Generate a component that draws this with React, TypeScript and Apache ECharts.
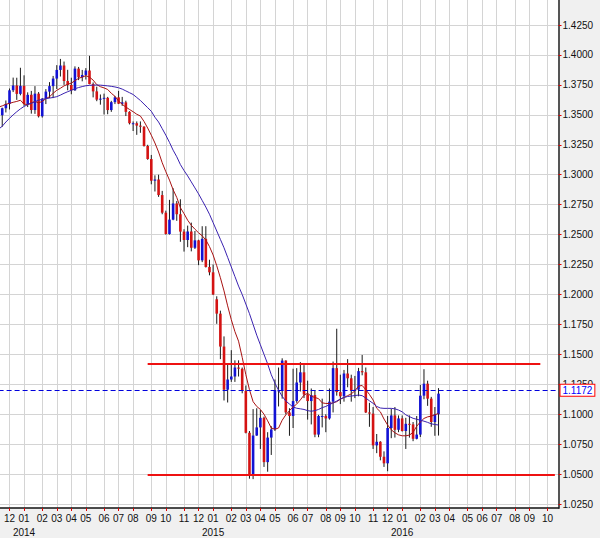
import { useEffect, useRef } from "react";
import * as echarts from "echarts";

// ---- data ----
const START_MONDAY = Date.UTC(2013, 10, 11); // first weekly category (Monday)
const WEEK_COUNT = 155; // categories up to late Oct 2016
const FIRST_BAR = 1; // index of the first candle (week of 2013-11-18)

const opens = [
  1.3497, 1.3555, 1.3591, 1.3705, 1.3745, 1.3675, 1.3742, 1.359, 1.3667, 1.354,
  1.3677, 1.3488, 1.3635, 1.3694, 1.374, 1.3803, 1.3875, 1.3912, 1.3782, 1.375,
  1.3705, 1.3886, 1.3814, 1.3833, 1.387, 1.3757, 1.3696, 1.3627, 1.3635, 1.3642,
  1.354, 1.3606, 1.3646, 1.3593, 1.3604, 1.3525, 1.343, 1.343, 1.341, 1.3401,
  1.324, 1.3131, 1.295, 1.296, 1.283, 1.2683, 1.2505, 1.2625, 1.276, 1.267,
  1.2525, 1.2455, 1.2526, 1.239, 1.2452, 1.2285, 1.2465, 1.223, 1.2185, 1.196,
  1.184, 1.1565, 1.1205, 1.129, 1.1315, 1.139, 1.138, 1.1195, 1.0845, 1.0495,
  1.0822, 1.089, 1.097, 1.06, 1.0805, 1.0873, 1.12, 1.12, 1.1448, 1.1015,
  1.0985, 1.111, 1.1265, 1.135, 1.1165, 1.111, 1.116, 1.083, 1.0985, 1.0985,
  1.0965, 1.1105, 1.1385, 1.1185, 1.115, 1.134, 1.13, 1.1195, 1.1205, 1.136,
  1.135, 1.1015, 1.1005, 1.074, 1.077, 1.0645, 1.059, 1.0885, 1.099, 1.087,
  1.0965, 1.086, 1.092, 1.0915, 1.0795, 1.083, 1.1155, 1.1255, 1.113, 1.0935,
  1.1,
];
const highs = [
  1.356, 1.362, 1.372, 1.3811, 1.381, 1.3893, 1.383, 1.3688, 1.37, 1.374,
  1.369, 1.364, 1.3715, 1.3773, 1.3825, 1.3915, 1.3967, 1.3945, 1.3876, 1.381,
  1.3905, 1.39, 1.3875, 1.389, 1.3993, 1.377, 1.3735, 1.367, 1.3677, 1.365,
  1.3617, 1.3658, 1.37, 1.365, 1.3618, 1.353, 1.3445, 1.3445, 1.3445, 1.3405,
  1.325, 1.3165, 1.2995, 1.3, 1.2865, 1.27, 1.279, 1.2887, 1.278, 1.2795,
  1.2545, 1.2575, 1.26, 1.253, 1.2457, 1.257, 1.257, 1.229, 1.225, 1.1985,
  1.1865, 1.165, 1.1425, 1.1535, 1.145, 1.145, 1.139, 1.124, 1.086, 1.1043,
  1.105, 1.1035, 1.098, 1.085, 1.09, 1.129, 1.139, 1.1467, 1.145, 1.105,
  1.138, 1.1385, 1.1435, 1.141, 1.128, 1.1215, 1.12, 1.0995, 1.113, 1.1,
  1.1215, 1.144, 1.1714, 1.133, 1.137, 1.146, 1.133, 1.132, 1.1387, 1.1495,
  1.139, 1.1095, 1.106, 1.0835, 1.0775, 1.069, 1.0985, 1.1045, 1.106, 1.099,
  1.099, 1.097, 1.099, 1.0935, 1.0985, 1.1245, 1.1376, 1.128, 1.1145, 1.106,
  1.1218,
];
const lows = [
  1.34, 1.352, 1.3545, 1.369, 1.3625, 1.3663, 1.3575, 1.3565, 1.351, 1.3508,
  1.3478, 1.3477, 1.359, 1.364, 1.364, 1.3715, 1.382, 1.375, 1.3705, 1.3672,
  1.37, 1.379, 1.378, 1.3795, 1.3755, 1.3646, 1.3614, 1.3585, 1.3503, 1.3505,
  1.3525, 1.359, 1.359, 1.3575, 1.349, 1.342, 1.3365, 1.3333, 1.335, 1.3235,
  1.3125, 1.292, 1.286, 1.2815, 1.267, 1.25, 1.25, 1.262, 1.2615, 1.244,
  1.2358, 1.2395, 1.236, 1.238, 1.2245, 1.227, 1.2225, 1.216, 1.1995, 1.1755,
  1.146, 1.1115, 1.1098, 1.127, 1.127, 1.1315, 1.1175, 1.084, 1.0462, 1.0458,
  1.082, 1.071, 1.056, 1.052, 1.066, 1.086, 1.1065, 1.113, 1.1, 1.082,
  1.0885, 1.1095, 1.119, 1.1135, 1.0955, 1.0915, 1.0808, 1.0808, 1.089, 1.085,
  1.0955, 1.1015, 1.1155, 1.1085, 1.1105, 1.1225, 1.1105, 1.1135, 1.115, 1.1325,
  1.101, 1.0895, 1.071, 1.0675, 1.0615, 1.056, 1.0524, 1.08, 1.0805, 1.085,
  1.0855, 1.071, 1.0805, 1.0775, 1.079, 1.081, 1.1125, 1.107, 1.0895, 1.082,
  1.0822,
];
const closes = [
  1.3555, 1.3591, 1.3705, 1.3745, 1.3675, 1.3742, 1.359, 1.3667, 1.354, 1.3677,
  1.3488, 1.3635, 1.3694, 1.374, 1.3803, 1.3875, 1.3912, 1.3782, 1.375, 1.3705,
  1.3886, 1.3814, 1.3833, 1.387, 1.3757, 1.3696, 1.3627, 1.3635, 1.3642, 1.354,
  1.3606, 1.3646, 1.3593, 1.3604, 1.3525, 1.343, 1.343, 1.341, 1.3401, 1.324,
  1.3131, 1.295, 1.296, 1.283, 1.2683, 1.2505, 1.2625, 1.276, 1.267, 1.2525,
  1.2455, 1.2526, 1.239, 1.2452, 1.2285, 1.2465, 1.223, 1.2185, 1.2, 1.184,
  1.1565, 1.1205, 1.129, 1.1315, 1.139, 1.138, 1.1195, 1.0845, 1.0495, 1.0822,
  1.089, 1.097, 1.06, 1.0805, 1.0873, 1.12, 1.12, 1.1448, 1.1015, 1.0985,
  1.111, 1.1265, 1.135, 1.1165, 1.111, 1.116, 1.083, 1.0985, 1.0985, 1.0965,
  1.1105, 1.1385, 1.1185, 1.115, 1.134, 1.13, 1.1195, 1.1205, 1.136, 1.135,
  1.1015, 1.1005, 1.074, 1.077, 1.0645, 1.059, 1.0885, 1.099, 1.087, 1.0965,
  1.086, 1.092, 1.0915, 1.0795, 1.083, 1.1155, 1.1255, 1.113, 1.0935, 1.1,
  1.1172,
];

// moving averages as drawn (one value per week, from the first category)
const fastMA = [
  1.3565, 1.3575, 1.3588, 1.3596, 1.3605, 1.3612, 1.3622, 1.359, 1.3585, 1.36,
  1.3612, 1.36, 1.3612, 1.3635, 1.3651, 1.368, 1.3705, 1.3722, 1.3742, 1.3755,
  1.3765, 1.3785, 1.3805, 1.3815, 1.3827, 1.3815, 1.379, 1.3752, 1.3735, 1.3725,
  1.3712, 1.368, 1.3655, 1.3615, 1.3588, 1.3565, 1.3545, 1.3526, 1.3505, 1.349,
  1.3445, 1.339, 1.333, 1.3265, 1.319, 1.31, 1.3025, 1.2955, 1.2875, 1.281,
  1.2725, 1.2675, 1.262, 1.2578, 1.2545, 1.2515, 1.249, 1.2455, 1.24, 1.233,
  1.224, 1.214, 1.203, 1.1905, 1.179, 1.169, 1.161, 1.1475, 1.133, 1.1205,
  1.1105, 1.1065, 1.104, 1.1, 1.0945, 1.0885, 1.0875, 1.0885, 1.095, 1.0995,
  1.103, 1.106, 1.1085, 1.112, 1.116, 1.1175, 1.115, 1.114, 1.113, 1.1095,
  1.109, 1.109, 1.1095, 1.1105, 1.1125, 1.114, 1.1155, 1.117, 1.1195, 1.1235,
  1.124, 1.1205, 1.1165, 1.1119, 1.105, 1.102, 1.096, 1.091, 1.087, 1.0845,
  1.0828, 1.082, 1.082, 1.0826, 1.0848, 1.09, 1.0935, 1.0965, 1.0978, 1.0984,
  1.0995, 1.1007,
];
const slowMA = [
  1.338, 1.3405, 1.344, 1.3471, 1.35, 1.3526, 1.355, 1.357, 1.3585, 1.3596,
  1.361, 1.3622, 1.363, 1.3635, 1.364, 1.3645, 1.3652, 1.3665, 1.368, 1.3693,
  1.3705, 1.3718, 1.3728, 1.3736, 1.3743, 1.3746, 1.3748, 1.3749, 1.3748, 1.3745,
  1.3742, 1.3738, 1.3733, 1.3726, 1.3715, 1.37, 1.3685, 1.367, 1.3645, 1.362,
  1.359, 1.356, 1.353, 1.348, 1.344, 1.3385, 1.333, 1.327, 1.3205, 1.315,
  1.3085, 1.3035, 1.299, 1.294, 1.289, 1.284, 1.2785, 1.273, 1.267, 1.26,
  1.253, 1.246, 1.239, 1.231, 1.223, 1.215, 1.207, 1.2, 1.192, 1.184,
  1.175, 1.166, 1.158, 1.15, 1.142, 1.133, 1.126, 1.12, 1.115, 1.111,
  1.1085, 1.106, 1.105, 1.1045, 1.104, 1.103, 1.1025, 1.103, 1.104, 1.1055,
  1.1065, 1.108, 1.1095, 1.111, 1.1128, 1.114, 1.1148, 1.1152, 1.1156, 1.116,
  1.1155, 1.1135, 1.1112, 1.1091, 1.1065, 1.1052, 1.1049, 1.1049, 1.1049, 1.1045,
  1.1035, 1.102, 1.0995, 1.098, 1.0966, 1.0958, 1.095, 1.0942, 1.0932, 1.092,
  1.0914, 1.091,
];

const yTicks = [
  1.025, 1.05, 1.075, 1.1, 1.125, 1.15, 1.175, 1.2, 1.225, 1.25, 1.275, 1.3,
  1.325, 1.35, 1.375, 1.4, 1.425,
];
const Y_MIN = 1.0217;
const Y_MAX = 1.4459;

const resistance = 1.142;
const resistanceWeeks = [41, 149];
const support = 1.0492;
const supportWeeks = [41, 153];
const lastPrice = 1.1172;

// ---- helpers ----
const DAY = 86400000;
const pad2 = (n: number) => (n < 10 ? "0" + n : "" + n);
const weekKeys: string[] = Array.from({ length: WEEK_COUNT }, (_, i) => {
  const d = new Date(START_MONDAY + i * 7 * DAY);
  return `${d.getUTCFullYear()}-${pad2(d.getUTCMonth() + 1)}-${pad2(d.getUTCDate())}`;
});
const fridayOf = (i: number) => new Date(START_MONDAY + (i * 7 + 4) * DAY);
const isMonthStart = (i: number) =>
  i > 0 && fridayOf(i).getUTCMonth() !== fridayOf(i - 1).getUTCMonth();
const isYearStart = (i: number) => isMonthStart(i) && fridayOf(i).getUTCMonth() === 0;

const candleData = opens.map((o, k) => [FIRST_BAR + k, o, closes[k], lows[k], highs[k]]);

const FONT = "'Liberation Sans', Arial, Helvetica, sans-serif";

export default function App() {
  const ref = useRef<HTMLDivElement>(null);
  useEffect(() => {
    if (!ref.current) return;
    const chart = echarts.init(ref.current, undefined, { renderer: "svg" });
    chart.setOption({
      animation: false,
      backgroundColor: "#f0f0f0",
      textStyle: { fontFamily: FONT },
      grid: {
        left: -1.4,
        right: 41.5,
        top: 0,
        bottom: 30,
        show: true,
        backgroundColor: "#ffffff",
        borderWidth: 0,
        outerBoundsMode: "none",
        containLabel: false,
      },
      xAxis: [
        {
          type: "category",
          data: weekKeys,
          boundaryGap: false,
          axisLine: { show: true, lineStyle: { color: "#111", width: 1.5 } },
          axisTick: {
            show: true,
            interval: (i: number) => isMonthStart(i),
            length: 3,
            lineStyle: { color: "#e00000", width: 1 },
          },
          axisLabel: {
            interval: (i: number) => isMonthStart(i),
            showMinLabel: true,
            showMaxLabel: true,
            formatter: (_v: string, i: number) => pad2(fridayOf(i).getUTCMonth() + 1),
            color: "#111",
            fontSize: 10,
            lineHeight: 14,
            margin: 3,
            fontFamily: FONT,
          },
          splitLine: {
            show: true,
            interval: (i: number) => isMonthStart(i),
            lineStyle: { color: "#d4d4d4", width: 1 },
          },
        },
        {
          type: "category",
          data: weekKeys,
          boundaryGap: false,
          position: "bottom",
          axisLine: { show: false },
          axisTick: { show: false },
          splitLine: { show: false },
          axisLabel: {
            interval: (i: number) => isYearStart(i),
            formatter: (_v: string, i: number) => String(fridayOf(i).getUTCFullYear()),
            color: "#111",
            fontSize: 10,
            lineHeight: 14,
            margin: 17,
            fontFamily: FONT,
          },
        },
      ],
      yAxis: {
        type: "value",
        position: "right",
        min: Y_MIN,
        max: Y_MAX,
        scale: true,
        axisLine: { show: true, lineStyle: { color: "#555", width: 2 } },
        axisTick: {
          show: true,
          customValues: yTicks,
          length: 3,
          lineStyle: { color: "#e00000", width: 1 },
        },
        axisLabel: {
          customValues: yTicks,
          formatter: (v: number) => v.toFixed(4),
          color: "#111",
          fontSize: 10,
          margin: 4,
          fontFamily: FONT,
        },
        splitLine: { show: true, lineStyle: { color: "#d4d4d4", width: 1 } },
      },
      series: [
        {
          type: "custom",
          name: "EURUSD",
          clip: true,
          z: 2,
          encode: { x: 0, y: [1, 2, 3, 4] },
          data: candleData,
          renderItem: (_p: any, api: any) => {
            const x = api.value(0);
            const o = api.value(1);
            const c = api.value(2);
            const l = api.value(3);
            const h = api.value(4);
            const top = api.coord([x, h]);
            const bot = api.coord([x, l]);
            const po = api.coord([x, o]);
            const pc = api.coord([x, c]);
            const w = 2.6;
            const y1 = Math.min(po[1], pc[1]);
            const y2 = Math.max(po[1], pc[1]);
            const color = c >= o ? "#1212d4" : "#d41212";
            return {
              type: "group",
              children: [
                {
                  type: "line",
                  shape: { x1: top[0], y1: top[1], x2: bot[0], y2: bot[1] },
                  style: { stroke: "#1a1a1a", lineWidth: 1 },
                },
                {
                  type: "rect",
                  shape: { x: po[0] - w / 2, y: y1, width: w, height: Math.max(1, y2 - y1) },
                  style: { fill: color },
                },
              ],
            };
          },
        },
        {
          type: "line",
          name: "MA fast",
          data: fastMA,
          showSymbol: false,
          symbol: "none",
          z: 3,
          lineStyle: { color: "#a81212", width: 1 },
        },
        {
          type: "line",
          name: "MA slow",
          data: slowMA,
          showSymbol: false,
          symbol: "none",
          z: 3,
          lineStyle: { color: "#3a22b0", width: 1 },
        },
        {
          type: "line",
          name: "Resistance",
          data: resistanceWeeks.map((i) => [weekKeys[i], resistance]),
          showSymbol: false,
          symbol: "none",
          z: 4,
          lineStyle: { color: "#ee1111", width: 2 },
          markLine: {
            silent: true,
            symbol: ["none", "none"],
            data: [{ yAxis: lastPrice }],
            lineStyle: { color: "#0000dd", width: 1, type: [5, 3] },
            label: {
              show: true,
              position: "end",
              distance: 2,
              formatter: lastPrice.toFixed(4),
              color: "#0000ff",
              fontSize: 10,
              fontFamily: FONT,
              backgroundColor: "#ffffff",
              borderColor: "#ff0000",
              borderWidth: 1,
              padding: [1, 2, 0, 2],
            },
          },
        },
        {
          type: "line",
          name: "Support",
          data: supportWeeks.map((i) => [weekKeys[i], support]),
          showSymbol: false,
          symbol: "none",
          z: 4,
          lineStyle: { color: "#ee1111", width: 2 },
        },
      ],
    });
    return () => chart.dispose();
  }, []);
  return (
    <div
      ref={ref}
      style={{ position: "fixed", left: 0, top: 0, width: 600, height: 538, background: "#f0f0f0" }}
    />
  );
}
